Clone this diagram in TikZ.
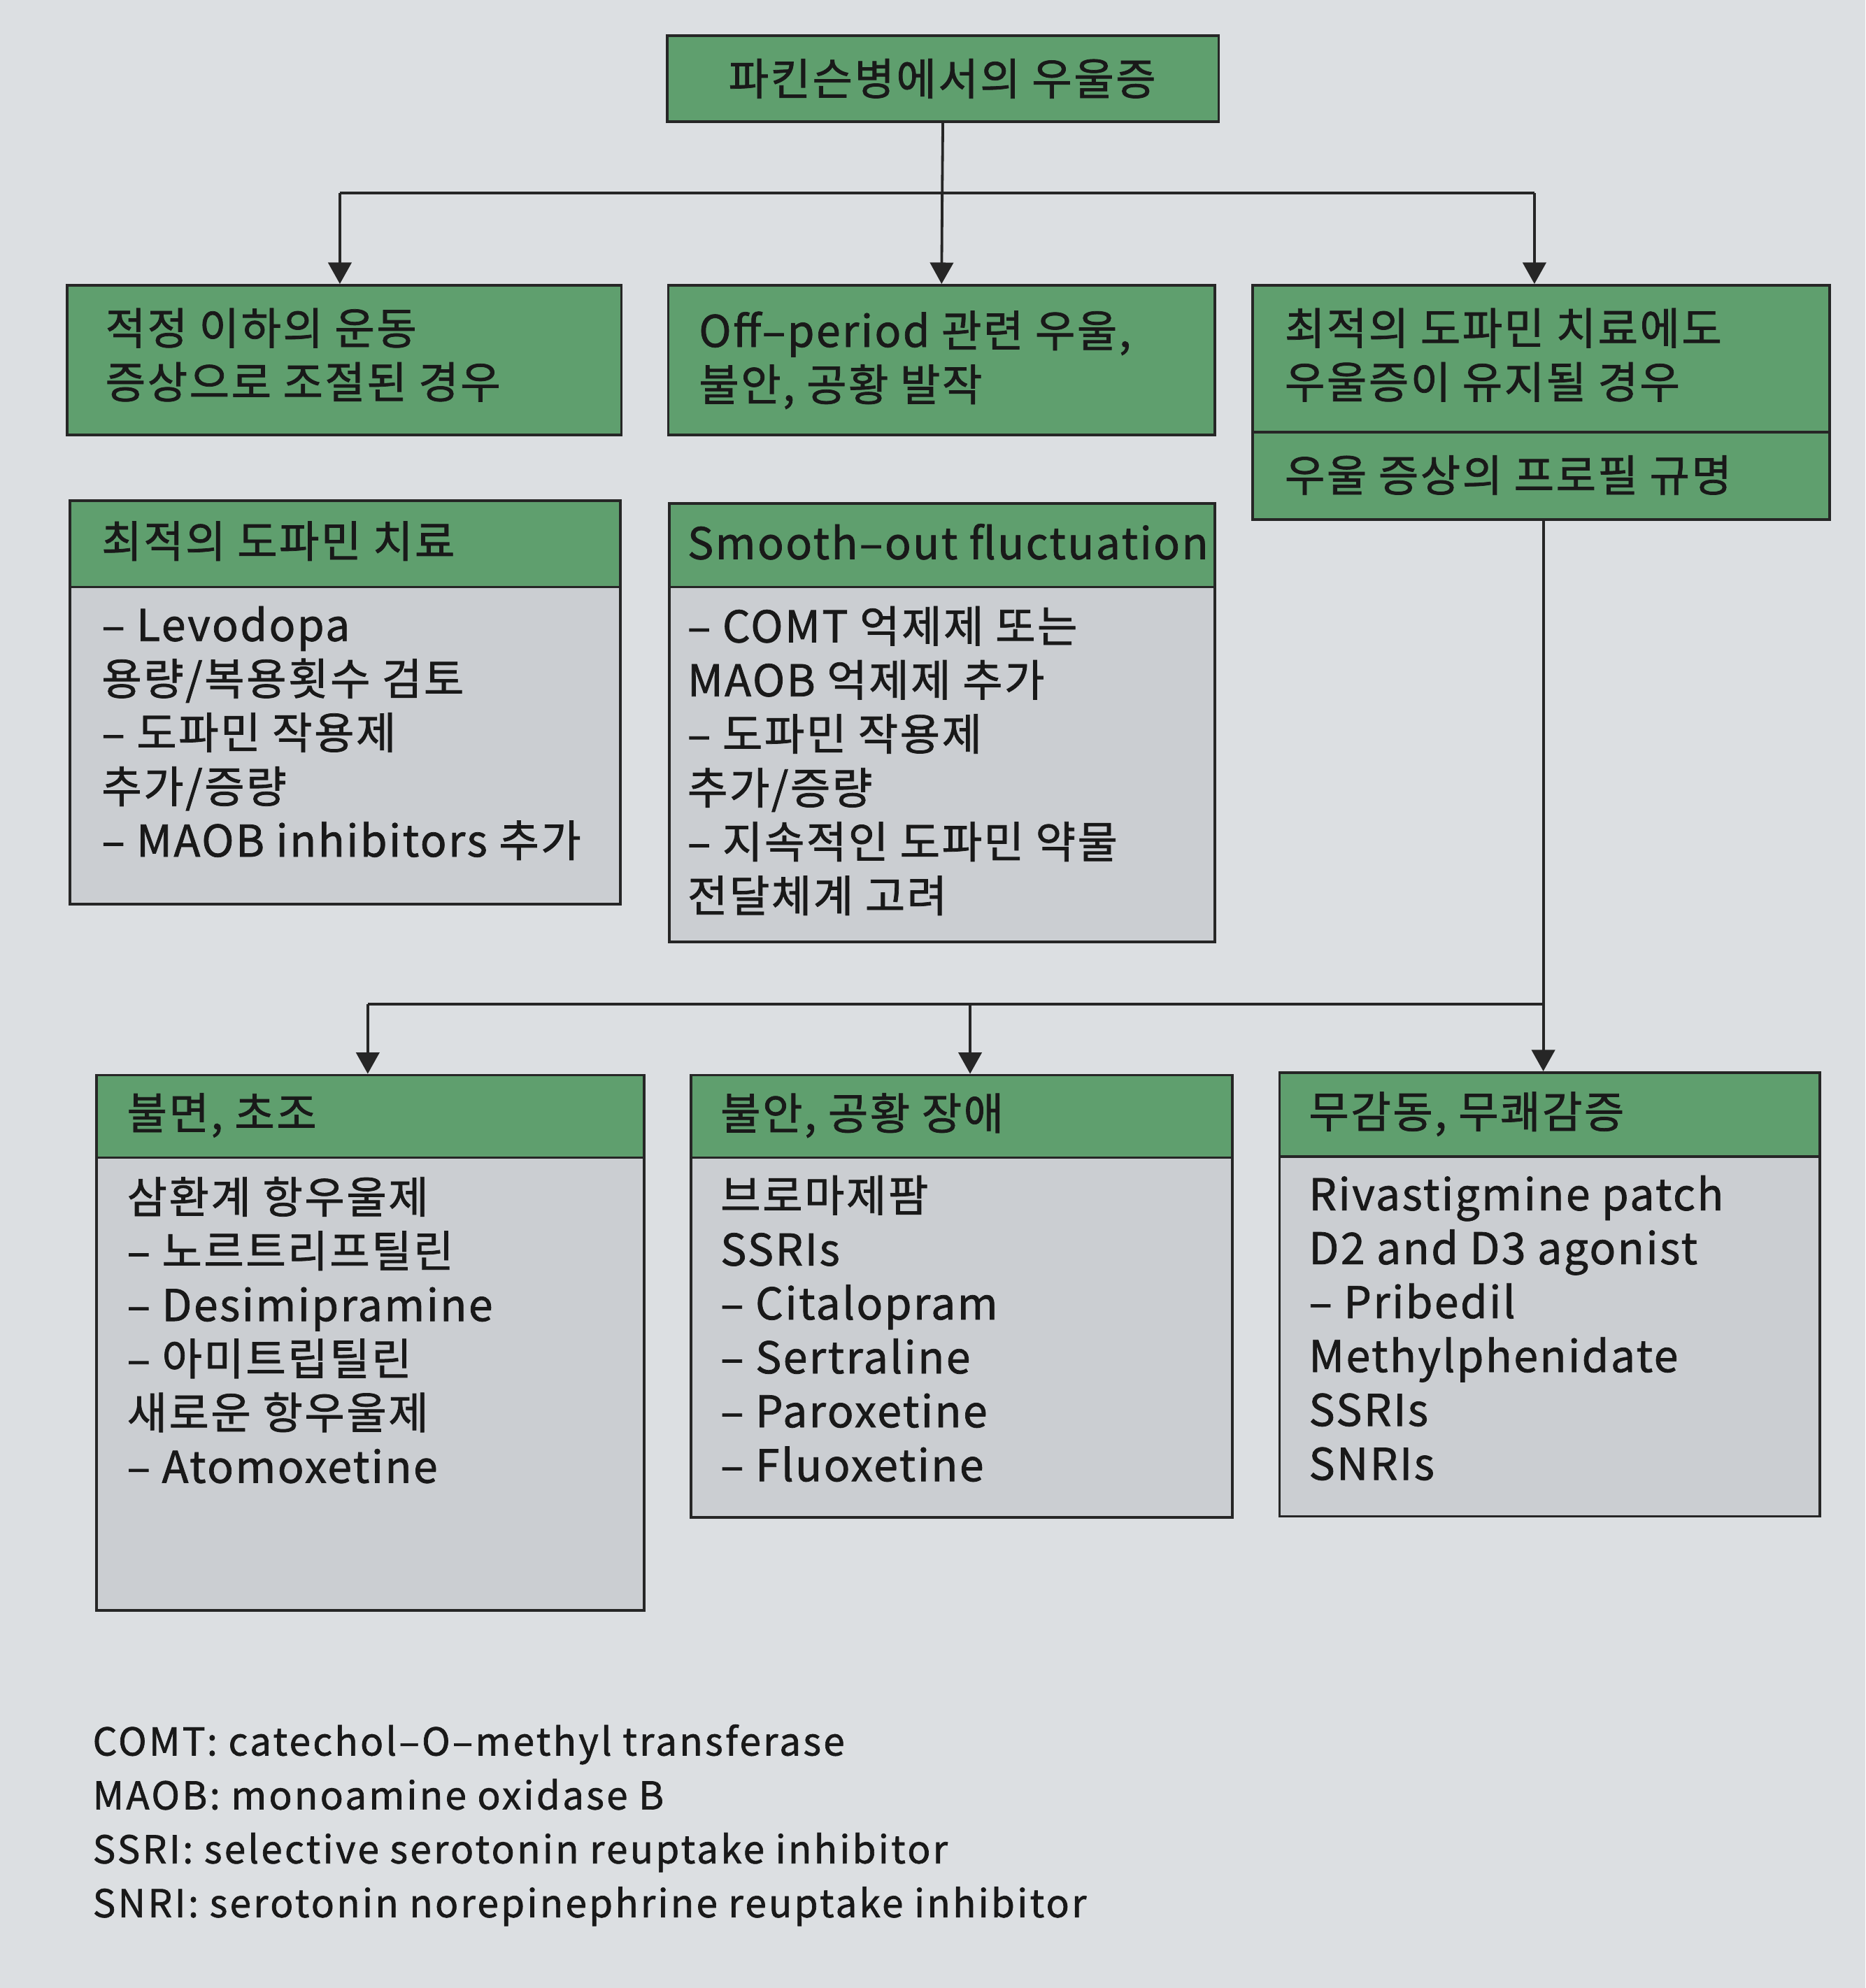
\documentclass[tikz,border=0pt]{standalone}
\usepackage{fontspec}
\setmainfont{Noto Sans CJK KR}[FakeBold=1.2,LetterSpace=4]
\usetikzlibrary{fit,arrows.meta}
\definecolor{bg}{HTML}{DCDFE2}
\definecolor{gr}{HTML}{5F9F6E}
\definecolor{gy}{HTML}{CBCED2}
\tikzset{
 gbox/.style={draw=black!85,line width=3pt,fill=gr,inner sep=0pt},
 ybox/.style={draw=black!85,line width=3pt,fill=gy,inner sep=0pt},
 txt/.style={anchor=north west,inner sep=0pt,align=left,font=\fontsize{49}{60.5}\selectfont,text=black!90},
 leg/.style={anchor=north west,inner sep=0pt,align=left,font=\fontsize{43}{60.5}\selectfont\addfontfeatures{LetterSpace=6},text=black!90},
 con/.style={line width=3pt,draw=black!85},
 arr/.style={con,-{Triangle[length=24pt,width=26pt]}}
}
\begin{document}
\begin{tikzpicture}[x=0.05cm,y=-0.05cm]
\fill[bg] (0,0) rectangle (1471,1568);
\useasboundingbox (0,0) rectangle (1471,1568);
% top
\node[gbox,fit={(526,28)(961,96)}] (top) {};
\node[txt,anchor=center] (toptx) at (743,62) {파킨슨병에서의 우울증};
% row 2
\node[gbox,fit={(53,225)(490,343)}] (a1) {};
\node[txt] (a1t) at (83,243) {적정 이하의 운동\\증상으로 조절된 경우};
\node[gbox,fit={(527,225)(958,343)}] (a2) {};
\node[txt] (a2t) at (551,245) {Off–period 관련 우울,\\불안, 공황 발작};
\node[gbox,fit={(988,225)(1443,341)}] (a3) {};
\node[txt] (a3t) at (1013,243) {최적의 도파민 치료에도\\우울증이 유지될 경우};
\node[gbox,fit={(988,341)(1443,410)}] (a3s) {};
\node[txt] (a3st) at (1013,359) {우울 증상의 프로필 규명};
% row 3
\node[gbox,fit={(55,395)(489,463)}] (b1h) {};
\node[txt] (b1ht) at (80,411) {최적의 도파민 치료};
\node[ybox,fit={(55,463)(489,713)}] (b1) {};
\node[txt] (b1t) at (80,478) {– Levodopa\\용량/복용횟수 검토\\– 도파민 작용제\\추가/증량\\– MAOB inhibitors 추가};
\node[gbox,fit={(528,397)(958,463)}] (b2h) {};
\node[txt] (b2ht) at (542,413) {Smooth–out fluctuation};
\node[ybox,fit={(528,463)(958,743)}] (b2) {};
\node[txt] (b2t) at (542,478) {– COMT 억제제 또는\\MAOB 억제제 추가\\– 도파민 작용제\\추가/증량\\– 지속적인 도파민 약물\\전달체계 고려};
% row 4
\node[gbox,fit={(76,848)(508,913)}] (c1h) {};
\node[txt] (c1ht) at (100,862) {불면, 초조};
\node[ybox,fit={(76,913)(508,1270)}] (c1) {};
\node[txt] (c1t) at (100,928) {삼환계 항우울제\\– 노르트리프틸린\\– Desimipramine\\– 아미트립틸린\\새로운 항우울제\\– Atomoxetine};
\node[gbox,fit={(545,848)(972,913)}] (c2h) {};
\node[txt] (c2ht) at (568,862) {불안, 공황 장애};
\node[ybox,fit={(545,913)(972,1197)}] (c2) {};
\node[txt] (c2t) at (568,927) {브로마제팜\\SSRIs\\– Citalopram\\– Sertraline\\– Paroxetine\\– Fluoxetine};
\node[gbox,fit={(1009,846)(1435,912)}] (c3h) {};
\node[txt] (c3ht) at (1032,861) {무감동, 무쾌감증};
\node[ybox,fit={(1009,912)(1435,1196)}] (c3) {};
\node[txt] (c3t) at (1032,927) {Rivastigmine patch\\D2 and D3 agonist\\– Pribedil\\Methylphenidate\\SSRIs\\SNRIs};
% legend
\node[leg] (lg) at (73,1360) {COMT: catechol–O–methyl transferase\\MAOB: monoamine oxidase B\\SSRI: selective serotonin reuptake inhibitor\\SNRI: serotonin norepinephrine reuptake inhibitor};
% connectors
\coordinate (j1) at (743,152);
\coordinate (j1l) at (268,152);
\coordinate (j1r) at (1210,152);
\draw[con] (top.south) -- (j1);
\draw[con] (j1l) -- (j1r);
\draw[arr] (j1l) -- (j1l |- a1.north);
\draw[arr] (j1) -- (a2.north);
\draw[arr] (j1r) -- (j1r |- a3.north);
\coordinate (k0) at (1217,410);
\coordinate (k1) at (1217,792);
\coordinate (k2) at (290,792);
\coordinate (k3) at (765,792);
\draw[arr] (k0) -- (k0 |- c3h.north);
\draw[con] (k1) -- (k2);
\draw[arr] (k2) -- (k2 |- c1h.north);
\draw[arr] (k3) -- (k3 |- c2h.north);
\end{tikzpicture}
\end{document}
